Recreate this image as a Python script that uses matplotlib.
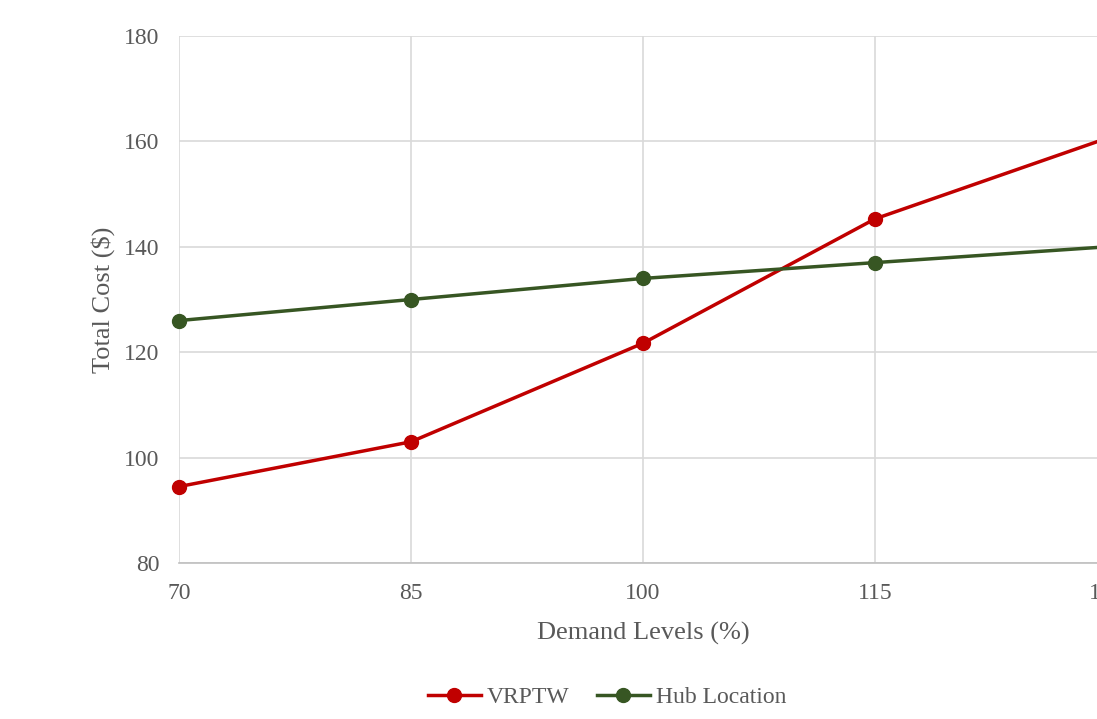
import matplotlib
matplotlib.use("Agg")
from matplotlib import pyplot as plt

# demand levels (%) and total cost ($) for each model
demand = [70, 85, 100, 115, 130]
vrptw = [94.5, 103, 121.7, 145.3, 160.6]
hub_location = [126, 130, 134, 137, 140]

red = "#C00000"
green = "#375623"
grey_text = "#595959"

plt.rcParams["font.family"] = ["Liberation Serif", "DejaVu Serif"]

fig = plt.figure(figsize=(10.97, 7.19), dpi=100)
# plot area runs past the right edge of the figure on purpose
ax = fig.add_axes([179 / 1097, 1 - 563 / 719, 928 / 1097, 527 / 719])

ax.plot(demand, vrptw, color=red, lw=2.5, marker="o", ms=10,
        label="VRPTW", clip_on=False, zorder=3)
ax.plot(demand, hub_location, color=green, lw=2.5, marker="o", ms=10,
        label="Hub Location", clip_on=False, zorder=3)

ax.set_xlim(70, 130)
ax.set_ylim(80, 180)
ax.set_xticks(demand)
ax.set_yticks(range(80, 181, 20))
ax.grid(True, color="#d9d9d9", lw=1.2)
ax.set_axisbelow(True)
for s in ["top", "right", "left"]:
    ax.spines[s].set_visible(False)
ax.spines["bottom"].set_color("#bfbfbf")
ax.spines["bottom"].set_linewidth(1.2)
ax.tick_params(length=0, labelsize=17, colors=grey_text)
ax.tick_params(axis="y", pad=14)
ax.tick_params(axis="x", pad=14.5)

ax.set_xlabel("Demand Levels (%)", fontsize=19, color=grey_text, labelpad=13)
ax.set_ylabel("Total Cost ($)", fontsize=19, color=grey_text, labelpad=6.5)

fig.legend(loc="center", bbox_to_anchor=(607 / 1097, 1 - 697 / 719), ncol=2,
           frameon=False, fontsize=17, labelcolor=grey_text,
           handlelength=2.25, columnspacing=1.15, handletextpad=0.25)

fig.savefig("out.png", dpi=100)
